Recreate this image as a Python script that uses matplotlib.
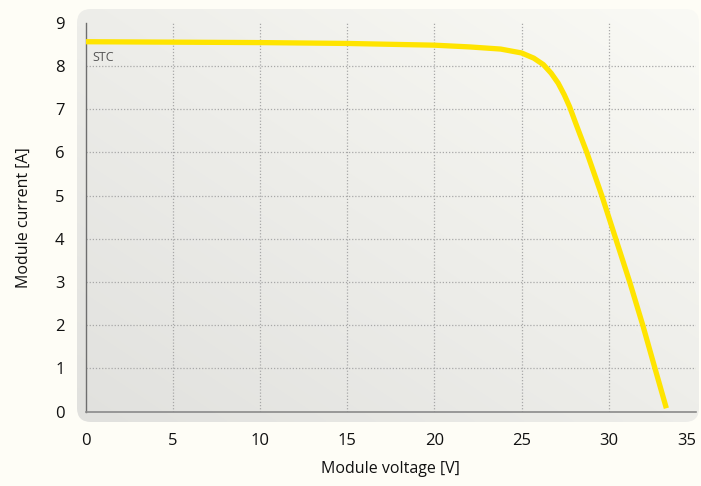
import numpy as np
import matplotlib
matplotlib.use("Agg")
import matplotlib.pyplot as plt
from matplotlib.patches import FancyBboxPatch

# Data
voltage = [0, 5, 10, 15, 20, 22, 23.8, 25.0, 25.7, 26.25, 26.7, 27.1, 27.45,
           27.75, 28.07, 28.35, 28.74, 29.6, 30.4, 31.2, 31.95, 32.65, 33.3]
current = [8.56, 8.55, 8.54, 8.52, 8.48, 8.44, 8.39, 8.30, 8.18, 8.03, 7.83,
           7.60, 7.33, 7.06, 6.71, 6.41, 6.0, 5.0, 4.0, 3.0, 2.0, 1.0, 0.08]
x_ticks = [0, 5, 10, 15, 20, 25, 30, 35]
y_ticks = [0, 1, 2, 3, 4, 5, 6, 7, 8, 9]
curve_label = "STC"
x_label = "Module voltage [V]"
y_label = "Module current [A]"

plt.rcParams['font.family'] = ['Open Sans', 'DejaVu Sans']

W, H = 701, 486
fig = plt.figure(figsize=(W / 100, H / 100), dpi=100)
fig.patch.set_facecolor('#fefdf6')

# Background panel with gradient and rounded corners
bg = fig.add_axes([0, 0, 1, 1], zorder=0)
bg.set_xlim(0, W)
bg.set_ylim(H, 0)
bg.axis('off')
px0, px1, py0, py1 = 77, 699, 9, 422
nx, ny = 200, 150
gx = np.linspace(0, 1, nx)[None, :]
gy = np.linspace(0, 1, ny)[:, None]  # 0 at top
t = (gx + (1 - gy)) / 2.0
c0 = np.array([0xe1, 0xe1, 0xde]) / 255.0
c1 = np.array([0xfa, 0xfa, 0xf5]) / 255.0
img = c0[None, None, :] + t[:, :, None] * (c1 - c0)[None, None, :]
im = bg.imshow(img, extent=[px0, px1, py1, py0], aspect='auto', interpolation='bilinear')
patch = FancyBboxPatch((px0, py0), px1 - px0, py1 - py0,
                       boxstyle="round,pad=0,rounding_size=14",
                       facecolor='none', edgecolor='none', transform=bg.transData)
bg.add_patch(patch)
im.set_clip_path(patch)

# Main axes
left = 85.5 / W
right = 696 / W
bottom = (H - 411.7) / H
top = (H - 22.7) / H
ax = fig.add_axes([left, bottom, right - left, top - bottom], zorder=1)
ax.set_facecolor('none')
ax.set_xlim(0, 35)
ax.set_ylim(0, 9)

grid_kw = dict(color='#a8a8a8', linestyle=(0, (1, 1.5)), linewidth=0.9, zorder=1)
for yv in y_ticks[1:-1]:
    ax.axhline(yv, **grid_kw)
for xv in x_ticks[1:-1]:
    ax.axvline(xv, **grid_kw)

ax.plot(voltage, current, color='#ffe400', linewidth=3.8, solid_capstyle='butt',
        solid_joinstyle='round', zorder=3)

ax.text(0.41, 8.2, curve_label, fontsize=9, color='#555555', va='center', ha='left')

for s in ['top', 'right']:
    ax.spines[s].set_visible(False)
ax.spines['left'].set_color('#6e6e6e')
ax.spines['bottom'].set_color('#8a8a8a')
ax.spines['left'].set_linewidth(1.0)
ax.spines['bottom'].set_linewidth(1.2)

ax.set_xticks(x_ticks)
ax.set_yticks(y_ticks)
ax.tick_params(axis='both', length=0, labelsize=12, colors='#111111')
ax.tick_params(axis='x', pad=15)
ax.tick_params(axis='y', pad=15)
xlabels = ax.get_xticklabels()
xlabels[-1].set_horizontalalignment('right')

ax.set_xlabel(x_label, fontsize=11.5, color='#111111', labelpad=9)
ax.set_ylabel(y_label, fontsize=11.5, color='#111111', labelpad=17)

fig.savefig('out.png', dpi=100, facecolor=fig.get_facecolor())
